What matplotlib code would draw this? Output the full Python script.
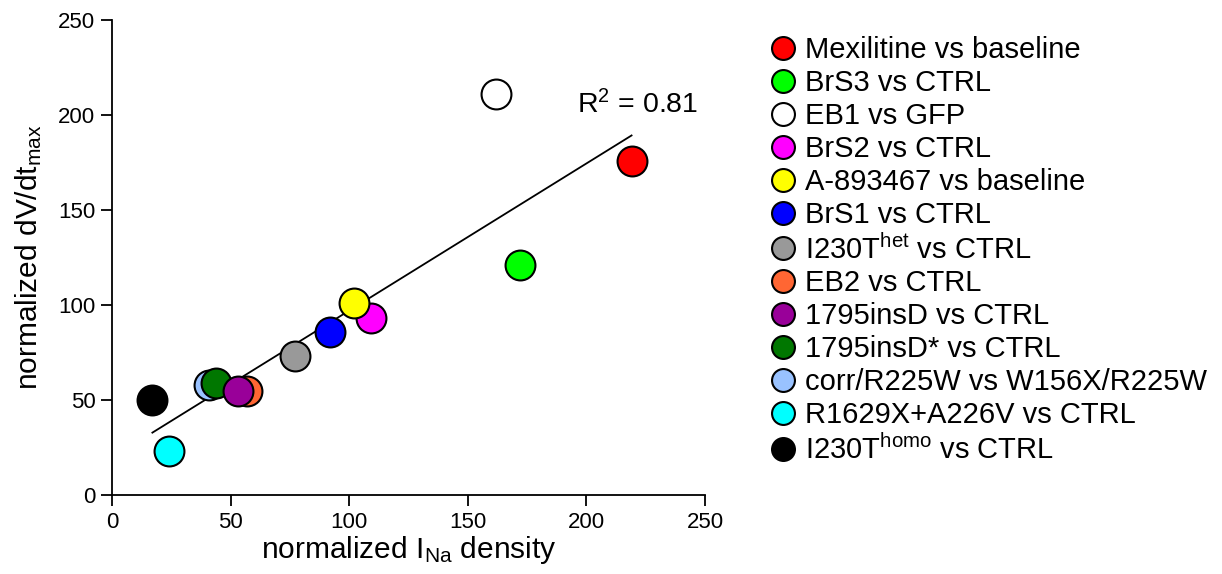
import numpy as np
import matplotlib
matplotlib.use("Agg")
import matplotlib.pyplot as plt
from matplotlib.lines import Line2D

plt.rcParams['font.family'] = ['Liberation Sans', 'DejaVu Sans']
plt.rcParams['mathtext.fontset'] = 'custom'
plt.rcParams['mathtext.rm'] = 'Liberation Sans'
plt.rcParams['mathtext.it'] = 'Liberation Sans:italic'

labels = ["Mexilitine vs baseline", "BrS3 vs CTRL", "EB1 vs GFP", "BrS2 vs CTRL",
          "A-893467 vs baseline", "BrS1 vs CTRL", r"I230T$^{\rm het}$ vs CTRL",
          "EB2 vs CTRL", "1795insD vs CTRL", "1795insD* vs CTRL",
          "corr/R225W vs W156X/R225W", "R1629X+A226V vs CTRL",
          r"I230T$^{\rm homo}$ vs CTRL"]
colors = ["#ff0000", "#00ff00", "#ffffff", "#ff00ff", "#ffff00", "#0000ff", "#999999",
          "#ff6633", "#990099", "#007700", "#99c2ff", "#00ffff", "#000000"]
ina = [219, 172, 162, 109, 102, 92, 77, 57, 53, 44, 41, 24, 17]
dvdt = [176, 121, 211, 93, 101, 86, 73, 55, 55, 59, 58, 23, 50]

fig = plt.figure(figsize=(12.22, 5.74), dpi=100)
ax = fig.add_axes([0.0917, 0.1376, 0.4853, 0.8274])

# regression line
slope, intercept = np.polyfit(ina, dvdt, 1)
xs = np.array([min(ina), max(ina)])
ax.plot(xs, slope * xs + intercept, color='black', lw=1.3, zorder=1)

draw_order = [0, 1, 2, 3, 4, 5, 6, 7, 10, 9, 8, 11, 12]
for i in draw_order:
    ax.plot(ina[i], dvdt[i], 'o', ms=21.5, mfc=colors[i], mec='black', mew=1.5, zorder=3)

ax.text(196, 201, r"R$^2$ = 0.81", fontsize=20.5, ha='left', va='baseline')

ax.set_xlim(0, 250)
ax.set_ylim(0, 250)
ax.set_xticks([0, 50, 100, 150, 200, 250])
ax.set_yticks([0, 50, 100, 150, 200, 250])
ax.tick_params(labelsize=16, direction='out', length=8, width=1.3, pad=4)
for s in ['top', 'right']:
    ax.spines[s].set_visible(False)
for s in ['left', 'bottom']:
    ax.spines[s].set_linewidth(1.3)
ax.set_xlabel(r"normalized I$_{\rm Na}$ density", fontsize=21.5, labelpad=1)
ax.set_ylabel(r"normalized dV/dt$_{\rm max}$", fontsize=21.5, labelpad=10)

handles = [Line2D([], [], ls='none', marker='o', ms=16.5, mfc=c, mec='black', mew=1.5)
           for c in colors]
fig.legend(handles, labels, loc='upper left', bbox_to_anchor=(0.629, 0.937),
           frameon=False, fontsize=21, handletextpad=0.25, labelspacing=0.17,
           handlelength=1.0, borderaxespad=0, borderpad=0)

fig.savefig("out.png", dpi=100)
